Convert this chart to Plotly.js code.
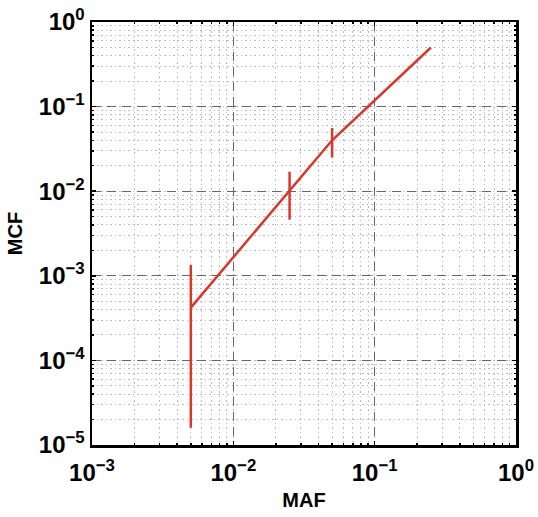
<!DOCTYPE html>
<html>
<head>
<meta charset="utf-8">
<script src="https://cdn.plot.ly/plotly-3.0.1.min.js"></script>
<style>
  html, body { margin: 0; padding: 0; background: #fff; }
</style>
</head>
<body>
<div id="viz" style="width:538px;height:517px;"></div>
<script>
// MAF vs MCF curve
var maf = [0.005, 0.025, 0.05, 0.25];
var mcf = [0.00042, 0.0102, 0.040, 0.50];
// error bar ends (upper / lower) at each point
var mcfUpper = [0.00135, 0.017, 0.056, 0.50];
var mcfLower = [0.000016, 0.0046, 0.025, 0.50];

var xTickVals = [0.001, 0.01, 0.1, 1];
var xTickText = ['10<sup>−3</sup>', '10<sup>−2</sup>', '10<sup>−1</sup>', '10<sup>0</sup>'];
var yTickVals = [0.00001, 0.0001, 0.001, 0.01, 0.1, 1];
var yTickText = ['10<sup>−5</sup>', '10<sup>−4</sup>', '10<sup>−3</sup>', '10<sup>−2</sup>', '10<sup>−1</sup>', '10<sup>0</sup>'];

var red = '#d8382c';
var fam = 'Liberation Sans, Arial, sans-serif';

var trace = {
  x: maf,
  y: mcf,
  type: 'scatter',
  mode: 'lines',
  line: { color: red, width: 2.5 },
  error_y: {
    type: 'data',
    symmetric: false,
    array: mcfUpper.map(function (u, i) { return u - mcf[i]; }),
    arrayminus: mcfLower.map(function (l, i) { return mcf[i] - l; }),
    color: red,
    thickness: 2.5,
    width: 0
  },
  hoverinfo: 'skip'
};

var axisCommon = {
  type: 'log',
  showline: true,
  linecolor: '#000',
  linewidth: 2.5,
  mirror: 'allticks',
  ticks: 'inside',
  ticklen: 4,
  tickwidth: 1.5,
  tickcolor: '#000',
  showgrid: true,
  gridcolor: '#666',
  griddash: '9px,6px',
  gridwidth: 1,
  zeroline: false,
  tickmode: 'array',
  tickfont: { family: fam, size: 24, color: '#000', weight: 'bold' },
  minor: {
    dtick: 'D1',
    showgrid: true,
    gridcolor: '#bbb',
    griddash: '1.5px,3px',
    gridwidth: 1,
    ticks: 'inside',
    ticklen: 2,
    tickcolor: '#000'
  }
};

var layout = {
  width: 538,
  height: 517,
  margin: { l: 92, r: 22, t: 22, b: 72 },
  paper_bgcolor: '#fff',
  plot_bgcolor: '#fff',
  showlegend: false,
  xaxis: Object.assign({}, axisCommon, {
    range: [-3, 0],
    tickvals: xTickVals,
    ticktext: xTickText,
    ticklabelstandoff: 5,
    title: { text: 'MAF', font: { family: fam, size: 20, color: '#000', weight: 'bold' }, standoff: 8 }
  }),
  yaxis: Object.assign({}, axisCommon, {
    range: [-5, 0],
    tickvals: yTickVals,
    ticktext: yTickText,
    title: { text: 'MCF', font: { family: fam, size: 20, color: '#000', weight: 'bold' }, standoff: 11 }
  })
};

Plotly.newPlot('viz', [trace], layout, { staticPlot: true });
</script>
</body>
</html>
